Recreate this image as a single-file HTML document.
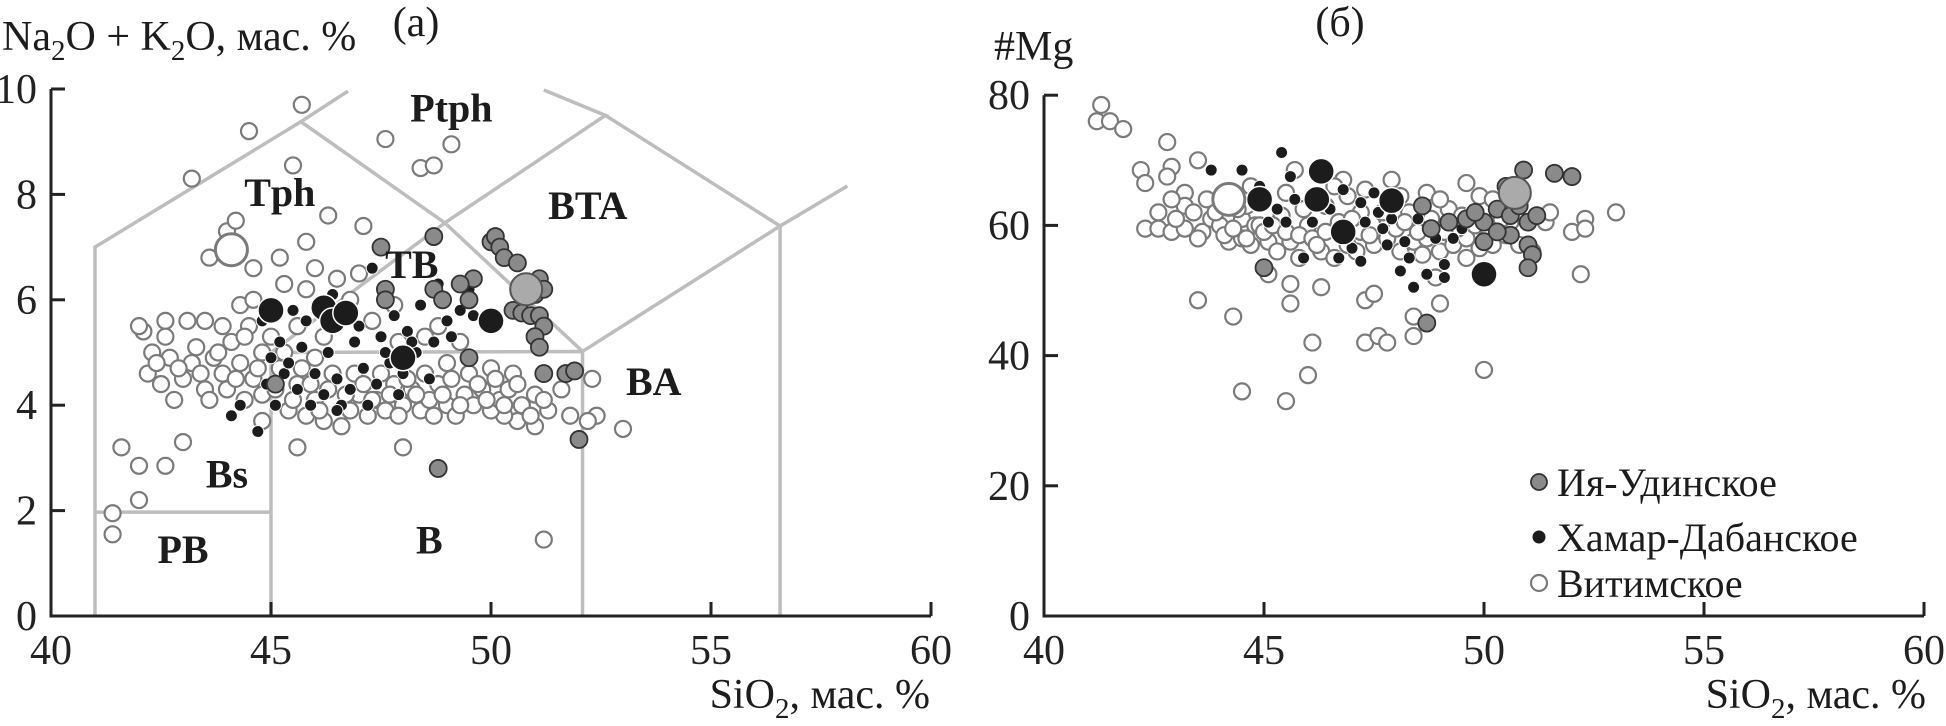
<!DOCTYPE html>
<html><head><meta charset="utf-8"><style>
html,body{margin:0;padding:0;background:#fff;}
body{position:relative;width:1946px;height:726px;overflow:hidden;}
svg{display:block;font-family:"Liberation Serif",serif;}
</style></head><body>
<svg id="c" width="1946" height="726" viewBox="0 0 1946 726" xmlns="http://www.w3.org/2000/svg"></svg>
<script>
// ---- Panel (a) data: [SiO2, Na2O+K2O]
const tasBoundaries = [
  [[41,0],[41,7],[45.68,9.38],[46.75,9.96]],
  [[45.68,9.38],[48.95,7.46],[52.08,5.02]],
  [[48.95,7.46],[52.6,9.5],[51.2,9.98]],
  [[52.6,9.5],[56.57,7.4],[58.1,8.16]],
  [[52.08,5.02],[56.57,7.4]],
  [[56.57,7.4],[56.57,0]],
  [[45,0],[45,5],[52.08,5.02],[52.08,0]],
  [[45,5],[48.95,7.46]],
  [[41,1.97],[45,1.97]]
];
const tasFieldNames = ["Ptph","Tph","BTA","TB","BA","Bs","B","PB"];
const tasFieldPos = [[49.1,9.65],[45.2,8.05],[52.2,7.8],[48.2,6.68],[53.7,4.46],[44,2.7],[48.6,1.45],[43.0,1.27]];
const aVitim = [[43.2,8.3],[44.5,9.2],[45.7,9.7],[47.6,9.05],[48.4,8.5],[48.7,8.55],[49.1,8.95],[45.5,8.55],[44,7.3],[44.2,7.5],[43.6,6.8],[44.6,6.6],[45.8,7.1],[46.3,7.6],[47.1,7.4],[45.2,6.8],[46,6.6],[46.5,6.4],[47,6.5],[44.3,5.9],[43.1,5.6],[42.6,5.6],[42.1,5.4],[42,5.5],[41.6,3.2],[42,2.85],[42.6,2.85],[43,3.3],[42,2.2],[41.4,1.95],[41.4,1.55],[44.8,3.7],[45.6,3.2],[48,3.2],[51.2,1.45],[53,3.55],[52.4,3.8],[52.2,3.7],[52.3,4.5],[51.8,3.8],[51,3.6],[50.6,3.7],[50.3,3.8],
 [42.2,4.6],[42.5,4.4],[42.8,4.1],[43.0,4.5],[43.2,4.8],[43.5,4.3],[43.7,4.9],[43.9,4.6],[44.1,5.2],[44.3,4.8],[44.5,5.5],[44.6,4.5],[44.8,5.0],[45.0,5.3],[45.2,4.7],[45.4,3.9],[45.6,4.4],[45.8,3.8],[46.0,4.1],[46.2,3.7],[46.4,4.6],[46.6,3.6],[46.8,3.9],[47.0,4.2],[47.2,3.8],[47.4,4.1],[47.6,3.9],[47.8,4.4],[48.0,4.0],[48.2,4.3],[48.4,3.9],[48.6,4.1],[48.8,4.4],[49.0,4.0],[49.2,3.8],[49.4,4.2],[49.6,4.0],[49.8,4.3],[50.0,3.9],[50.2,4.1],[50.4,4.3],[50.7,4.0],[51.0,4.2],[51.3,3.9],[51.6,4.3],[49.0,4.8],[49.5,4.6],[50.0,4.7],[50.5,4.6],[48.5,5.3],[47.8,5.9],[46.8,6.0],[45.8,6.2],[45.3,6.3],[44.6,6.0],[43.8,5.0],[43.3,5.1],[42.7,4.9],[42.3,5.0],[44.0,4.3],[44.8,4.2],[46.2,5.3],[47.3,5.6],[48.8,5.5],[49.3,5.2],[47.5,4.6],[46.0,4.9],
 [42.4,4.8],[42.9,4.7],[43.4,4.6],[43.6,4.1],[44.2,4.5],[44.4,4.1],[44.7,4.7],[45.1,4.3],[45.3,5.0],[45.5,4.1],[45.7,4.7],[45.9,4.4],[46.1,3.9],[46.3,4.3],[46.7,4.2],[46.9,4.6],[47.1,4.4],[47.3,4.1],[47.7,4.2],[47.9,3.8],[48.1,4.5],[48.3,4.2],[48.5,4.6],[48.7,3.8],[48.9,4.2],[49.1,4.5],[49.3,4.0],[49.7,4.4],[49.9,4.1],[50.1,4.5],[50.3,4.0],[50.6,4.4],[50.9,3.8],[51.2,4.1],[43.9,5.5],[44.4,5.3],[45.6,5.5],[46.5,5.6],[47.9,5.2],[42.6,5.3],[43.5,5.6],[44.9,5.8]];
const aKhamar = [[44.1,3.8],[44.3,4.0],[44.7,3.5],[45,4.9],[45.3,4.6],[45.6,4.3],[45.9,4.0],[46.2,4.2],[46.5,4.5],[46.8,4.3],[47.1,4.7],[47.4,4.4],[47.7,4.8],[48,4.6],[48.3,5.0],[48.6,4.5],[45.5,5.8],[45.8,5.6],[46.1,5.9],[46.4,6.1],[46.7,5.8],[47,5.5],[47.3,6.6],[47.5,5.3],[47.8,5.7],[48.1,5.4],[48.4,5.9],[48.7,5.2],[49,5.6],[49.3,5.8],[49.6,5.7],[49.9,5.5],[45.2,5.2],[45.7,5.1],[46.3,5.0],[46.9,5.2],[47.6,5.0],[48.2,5.2],[49.1,5.3],[46,4.6],[46.6,4.0],[47.2,4.0],[45.4,4.8],[44.9,4.4],[45.1,4.0],[46.5,3.9],[47.9,4.2],[49.5,6.2],[48.8,6.3],[44.8,5.6]];
const aKhamarMean = [[45,5.8],[46.2,5.85],[46.4,5.6],[46.7,5.75],[48,4.9],[50,5.6]];
const aIya = [[45.1,4.4],[47.5,7.0],[48.7,7.2],[50,7.1],[50.1,7.2],[50.2,7.0],[50.3,6.8],[50.6,6.7],[51.1,6.4],[51,6.1],[49.6,6.4],[49.3,6.3],[49.5,6.0],[48.7,6.2],[47.6,6.2],[47.6,6.0],[48.9,6.0],[50.5,5.8],[50.7,5.75],[50.9,5.7],[51.1,5.7],[51.2,5.5],[51,5.3],[51.1,5.1],[49.5,4.9],[51.2,4.6],[51.7,4.6],[51.9,4.65],[52,3.35],[48.8,2.8],[51.2,6.2]];
const aIyaMean = [[50.8,6.2]];
const aVitimMean = [[44.1,6.95]];
// ---- Panel (b) data: [SiO2, #Mg]
const bVitim = [[41.3,78.5],[41.2,76],[41.5,76],[41.8,74.8],[42.8,72.8],[42.2,68.5],[42.3,66.5],[42.9,69],[42.8,67.5],[43.2,65],[43.5,70],[42.6,62],[42.3,59.5],[42.6,59.5],[42.9,59],[43.2,59.5],[43.6,59],[43.8,61],[43.2,63],[43.7,64],[43.5,58],[44.2,57.5],[44.5,58],[44.7,57],[44.0,60],[44.5,61],[44.8,60],[45.1,57.5],[45.3,56],[45.6,57.5],[45.8,55],[46,60],[46.3,56],[46.6,55],[46.9,57],[47.2,59],[47.5,57],[47.8,58],[48.1,56],[48.4,57.5],[48.7,58],[49,56],[49.3,57],[49.6,58],[49.9,56.5],[50.2,57],[50.5,58.5],[50.8,57],[51.1,56],[51.4,60.5],[52,59],[52.3,61],[52.3,59.5],[53,62],[52.2,52.5],[46.3,50.5],[47.3,48.5],[47.5,49.5],[48.4,46],[48.4,43],[47.3,42],[47.6,43],[47.8,42],[46.1,42],[45.6,48],[45.6,51],[44.3,46],[43.5,48.5],[44.5,34.5],[45.5,33],[46,37],[50,37.8],[49,48],[45.1,52.5],[44.7,66],[45.7,68.5],[46.8,67],[47.9,67],[48.7,65],[49.6,66.5],[49.9,64.5],[50.2,64],[46.4,63],[47.2,62],[48.3,62],[49.2,62.5],[45.5,65],[44.6,63],[44.9,60],[45.4,61.5],[46.9,64.5],[47.8,61],[48.6,60],[49.4,59.5],[50.6,60.5],[51.5,62],[48.9,52],
 [43.9,62],[44.1,58.5],[44.3,59.5],[44.4,62.5],[44.6,58],[45.0,59],[45.2,60],[45.5,59],[45.8,58.5],[46.1,58],[46.4,59],[46.7,60.5],[47.0,61],[47.4,58.5],[47.7,62],[48.0,59.5],[48.2,60.5],[48.5,59],[48.8,61],[49.1,59],[49.5,61.5],[49.8,60],[50.1,59.5],[50.4,61],[43.0,61],[43.4,62],[42.9,64],[45.9,62.5],[46.6,66],[47.3,65.5],[48.1,64.5],[49.0,64],[46.2,57],[47.1,56],[48.6,55.5],[49.6,55]];
const bKhamar = [[43.8,68.5],[44.5,68.5],[45.4,71.2],[45.6,67.5],[45.1,60.5],[45.5,60.5],[45.7,64],[46.1,60.5],[46.1,65],[46.8,65.5],[47.2,63.5],[47.5,65],[47.6,62],[47.3,60.5],[47.7,59.5],[47.8,57],[47,56.5],[46.5,62.5],[47.2,54.5],[46.7,55],[45.9,55],[48.2,57.5],[48.5,61],[48.9,58],[49.3,58],[48.1,53],[48.4,50.5],[48.7,52.5],[49.1,54],[49.1,52],[49.5,59.5],[48.3,55],[49.7,62],[45.3,62.5],[46.4,67.5],[44.9,66],[47.9,61],[48.6,63.5]];
const bKhamarMean = [[44.9,64],[46.2,64],[46.3,68.3],[46.8,59],[47.9,63.8],[50,52.5]];
const bIya = [[48.6,63],[48.8,59.5],[49.2,60.5],[49.6,61],[45,53.5],[48.7,45],[50,60.5],[50,57.5],[50.3,62.5],[50.6,61.5],[50.8,63],[50.9,68.5],[50.7,64],[50.6,58.5],[51,60.5],[51,57],[51.1,55.5],[51,53.5],[51.2,61.5],[51.6,68],[52,67.5],[50.3,59],[50.5,66],[49.8,62]];
const bIyaMean = [[50.7,65]];
const bVitimMean = [[44.2,64]];
const xTicks = [40,45,50,55,60];
const aYTicks = [0,2,4,6,8,10];
const bYTicks = [0,20,40,60,80];
const legendNames = ["Ия-Удинское","Хамар-Дабанское","Витимское"];

const NS="http://www.w3.org/2000/svg";
const svg=document.getElementById('c');
function mk(tag,attrs,parent){const e=document.createElementNS(NS,tag);for(const k in attrs)e.setAttribute(k,attrs[k]);(parent||svg).appendChild(e);return e;}
const A={x0:51,ppx:44,y0:616,ppy:52.7,xmax:931,ymax:10};
const B={x0:1044,ppx:44,y0:616,ppy:6.51,xmax:1924,ymax:80};
function sx(P,v){return P.x0+(v-40)*P.ppx;}
function sy(P,v){return P.y0-v*P.ppy;}

const STY={
  vitim:{r:8,fill:'#fff',stroke:'#7a7a7a',sw:2.2},
  khamar:{r:6,fill:'#1c1c1c',stroke:'#fff',sw:1},
  iya:{r:8.5,fill:'#8a8a8a',stroke:'#333',sw:1.8},
  khamarMean:{r:13,fill:'#1c1c1c',stroke:'#fff',sw:1.5},
  iyaMean:{r:16,fill:'#aaaaaa',stroke:'#555',sw:2},
  vitimMean:{r:16,fill:'#fff',stroke:'#7a7a7a',sw:3}
};
function drawPts(P,arr,st,g){
  arr.forEach(d=>{
    const c=mk('circle',{cx:sx(P,d[0]),cy:sy(P,d[1]),r:st.r,fill:st.fill,stroke:st.stroke,'stroke-width':st.sw},g);
    
    
  });
}
function axes(P,yTicks,name){
  const g=mk('g',{});
  
  
  mk('path',{d:`M${P.x0} ${sy(P,P.ymax)} L${P.x0} ${P.y0} L${P.xmax} ${P.y0}`,fill:'none',stroke:'#222','stroke-width':3},g);
  yTicks.forEach(t=>{
    const y=sy(P,t);
    mk('line',{x1:P.x0,y1:y,x2:P.x0+14,y2:y,stroke:'#222','stroke-width':3},g);
    const tx=mk('text',{x:P.x0-14,y:y+14,'text-anchor':'end','font-size':42,fill:'#222'},g);
    tx.textContent=t;
    
    
  });
  xTicks.forEach(t=>{
    const x=sx(P,t);
    mk('line',{x1:x,y1:P.y0,x2:x,y2:P.y0-14,stroke:'#222','stroke-width':3},g);
    const tx=mk('text',{x:x,y:664,'text-anchor':'middle','font-size':42,fill:'#222'},g);
    tx.textContent=t;
    
    
  });
}
// Panel a
const ga=mk('g',{});


tasBoundaries.forEach(l=>{
  mk('polyline',{points:l.map(p=>sx(A,p[0])+','+sy(A,p[1])).join(' '),fill:'none',stroke:'#bdbdbd','stroke-width':3.5},ga);
});
const pa=mk('g',{});


drawPts(A,aVitim,STY.vitim,pa);
drawPts(A,aKhamar,STY.khamar,pa);
drawPts(A,aIya,STY.iya,pa);
drawPts(A,aKhamarMean,STY.khamarMean,pa);
drawPts(A,aIyaMean,STY.iyaMean,pa);
drawPts(A,aVitimMean,STY.vitimMean,pa);
tasFieldNames.forEach((n,i)=>{
  const t=mk('text',{x:sx(A,tasFieldPos[i][0]),y:sy(A,tasFieldPos[i][1])+14,'text-anchor':'middle','font-size':40,'font-weight':'bold',fill:'#1c1c1c'});
  t.textContent=n;
  
  
});
axes(A,aYTicks,'panel-a');
// Panel b
const pb=mk('g',{});


drawPts(B,bVitim,STY.vitim,pb);
drawPts(B,bKhamar,STY.khamar,pb);
drawPts(B,bIya,STY.iya,pb);
drawPts(B,bKhamarMean,STY.khamarMean,pb);
drawPts(B,bIyaMean,STY.iyaMean,pb);
drawPts(B,bVitimMean,STY.vitimMean,pb);
axes(B,bYTicks,'panel-b');
// legend
const lg=mk('g',{});


const lst=[{r:8,fill:'#8a8a8a',stroke:'#333',sw:1.8},{r:6,fill:'#1c1c1c',stroke:'#1c1c1c',sw:1},{r:8,fill:'#fff',stroke:'#7a7a7a',sw:2.2}];
const ly=[482,537,583];
legendNames.forEach((n,i)=>{
  const e=mk('g',{},lg);
  
  
  mk('circle',{cx:1539,cy:ly[i],r:lst[i].r,fill:lst[i].fill,stroke:lst[i].stroke,'stroke-width':lst[i].sw},e);
  const t=mk('text',{x:1557,y:ly[i]+14,'font-size':40,fill:'#1c1c1c'},e);
  t.textContent=n;
});
</script>
<svg width="1946" height="726" style="position:absolute;left:0;top:0">
  <text x="2" y="50" font-size="42" fill="#1c1c1c" font-family="Liberation Serif,serif">Na<tspan font-size="29" dy="10">2</tspan><tspan dy="-10">O + K</tspan><tspan font-size="29" dy="10">2</tspan><tspan dy="-10">O, мас. %</tspan></text>
  <text x="416" y="36" font-size="42" fill="#1c1c1c" font-family="Liberation Serif,serif" text-anchor="middle">(а)</text>
  <text x="1340" y="36" font-size="42" fill="#1c1c1c" font-family="Liberation Serif,serif" text-anchor="middle">(б)</text>
  <text x="994" y="60" font-size="42" fill="#1c1c1c" font-family="Liberation Serif,serif">#Mg</text>
  <text x="930" y="708" font-size="42" fill="#1c1c1c" font-family="Liberation Serif,serif" text-anchor="end">SiO<tspan font-size="29" dy="10">2</tspan><tspan dy="-10">, мас. %</tspan></text>
  <text x="1926" y="708" font-size="42" fill="#1c1c1c" font-family="Liberation Serif,serif" text-anchor="end">SiO<tspan font-size="29" dy="10">2</tspan><tspan dy="-10">, мас. %</tspan></text>
</svg>
</body></html>
